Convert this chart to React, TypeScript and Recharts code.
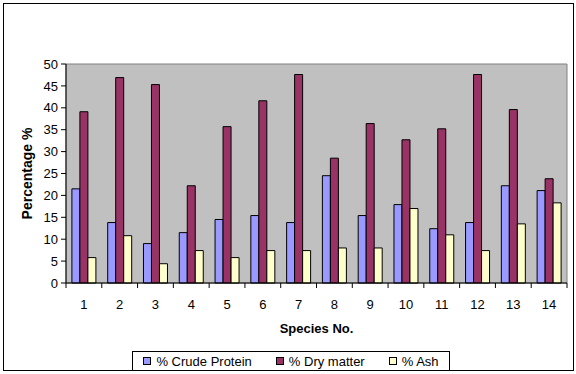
import React from "react"
import { BarChart, Bar, XAxis, YAxis, CartesianGrid, Legend, ReferenceArea } from "recharts"

// values
const species = ["1", "2", "3", "4", "5", "6", "7", "8", "9", "10", "11", "12", "13", "14"]
const crudeProtein = [21.5, 13.8, 9.0, 11.5, 14.5, 15.4, 13.8, 24.5, 15.4, 17.9, 12.4, 13.8, 22.2, 21.1]
const dryMatter = [39.1, 46.9, 45.3, 22.2, 35.7, 41.6, 47.6, 28.5, 36.4, 32.7, 35.2, 47.6, 39.6, 23.8]
const ash = [5.8, 10.8, 4.4, 7.4, 5.8, 7.4, 7.4, 8.0, 8.0, 17.0, 11.0, 7.4, 13.5, 18.3]
const yTicks = [0, 5, 10, 15, 20, 25, 30, 35, 40, 45, 50]

const seriesInfo = [
  { key: "protein", name: "% Crude Protein", color: "#9999FF" },
  { key: "dry", name: "% Dry matter", color: "#993366" },
  { key: "ash", name: "% Ash", color: "#FFFFCC" },
]

const data = species.map((s, i) => ({
  species: s,
  protein: crudeProtein[i],
  dry: dryMatter[i],
  ash: ash[i],
}))

const font = "'Liberation Sans', Arial, sans-serif"

// Excel style: tick marks sit between categories, label in the middle
const SpeciesTick = (props: any) => {
  const { x, y, payload, index, visibleTicksCount } = props
  const half = payload.offset || 0
  const axisY = y - 8
  return (
    <g>
      <line x1={x - half} x2={x - half} y1={axisY} y2={axisY + 5} stroke="#000" />
      {index === visibleTicksCount - 1 && (
        <line x1={x + half} x2={x + half} y1={axisY} y2={axisY + 5} stroke="#000" />
      )}
      <text x={x} y={y + 18} textAnchor="middle" fontSize={13} fontFamily={font} fill="#000">
        {payload.value}
      </text>
    </g>
  )
}

const LegendBox = () => (
  <div
    style={{
      display: "flex",
      alignItems: "center",
      justifyContent: "center",
      gap: 24,
      fontFamily: font,
      fontSize: 13,
      height: "100%",
    }}
  >
    {seriesInfo.map((s) => (
      <span key={s.key} style={{ display: "flex", alignItems: "center" }}>
        <span
          style={{
            display: "inline-block",
            width: 6,
            height: 6,
            background: s.color,
            border: "1px solid #000",
            marginRight: 5,
          }}
        />
        {s.name}
      </span>
    ))}
  </div>
)

export default function App() {
  return (
    <div style={{ position: "absolute", left: 0, top: 0, width: 576, height: 374, background: "#fff" }}>
      <div
        style={{
          position: "absolute",
          left: 3,
          top: 3,
          width: 569,
          height: 366,
          border: "1px solid #000",
        }}
      />
      <BarChart
        width={576}
        height={374}
        data={data}
        margin={{ top: 64, right: 9, bottom: 61, left: 0 }}
        barCategoryGap="16.5%"
        barGap={0}
      >
        <CartesianGrid horizontal={false} vertical={false} fill="#C0C0C0" />
        <ReferenceArea y1={0} y2={50} fill="none" stroke="#808080" strokeWidth={1} />
        <XAxis
          dataKey="species"
          height={30}
          axisLine={{ stroke: "#000" }}
          tickLine={false}
          tick={<SpeciesTick />}
          interval={0}
          label={{
            value: "Species No.",
            position: "insideBottom",
            offset: -20,
            style: { fontFamily: font, fontSize: 13, fontWeight: "bold", fill: "#000" },
          }}
        />
        <YAxis
          width={66}
          domain={[0, 50]}
          ticks={yTicks}
          interval={0}
          axisLine={{ stroke: "#000" }}
          tickLine={{ stroke: "#000" }}
          tickSize={5}
          tickMargin={3}
          tick={{ fontFamily: font, fontSize: 13, fill: "#000" }}
          label={{
            value: "Percentage %",
            angle: -90,
            position: "insideLeft",
            offset: 27,
            style: { fontFamily: font, fontSize: 14, fontWeight: "bold", fill: "#000", textAnchor: "middle" },
          }}
        />
        {seriesInfo.map((s) => (
          <Bar
            key={s.key}
            dataKey={s.key}
            name={s.name}
            fill={s.color}
            stroke="#000"
            strokeWidth={1}
            isAnimationActive={false}
          />
        ))}
        <Legend
          layout="horizontal"
          verticalAlign="middle"
          align="center"
          content={<LegendBox />}
          wrapperStyle={{
            position: "absolute",
            left: 132,
            top: 351,
            width: 316,
            height: 18,
            border: "1px solid #000",
            background: "#fff",
            boxSizing: "content-box",
          }}
        />
      </BarChart>
    </div>
  )
}
